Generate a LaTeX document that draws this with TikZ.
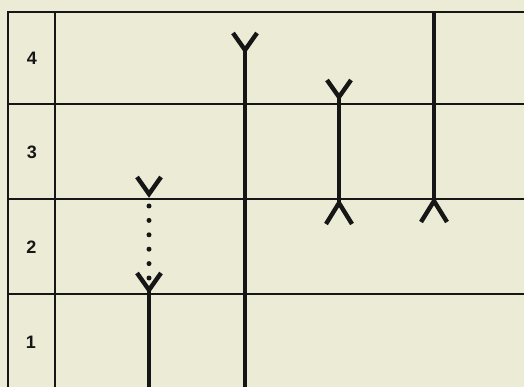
\documentclass[tikz,border=0pt]{standalone}
\usepackage{fontspec}
\setmainfont{Liberation Sans}
\usetikzlibrary{calc}
\definecolor{paper}{RGB}{236,235,214}
\definecolor{ink}{RGB}{22,22,22}
\tikzset{
  rule/.style={draw=ink, line width=2.2pt},
  stem/.style={draw=ink, line width=4.4pt, line join=miter},
  dotline/.style={draw=ink, line width=5pt, line cap=round,
                  dash pattern=on 0pt off 14.4pt, dash phase=2.4pt},
  rowlbl/.style={font=\fontsize{18}{18}\selectfont\bfseries, text=ink, inner sep=0pt},
  forkup/.pic={\draw[stem] (-12,-17) -- (0,0) -- (12,-17);},
  forkdn/.pic={\draw[stem] (-13,21) -- (0,0) -- (13,21);},
}

\begin{document}
\begin{tikzpicture}[x=1pt, y=-1pt]

  % ============ sheet ============
  \fill[paper] (0,0) rectangle (524,387);
  \useasboundingbox (0,0) rectangle (524,387);

  % ============ table ruling ============
  \coordinate (tl) at (8,12);
  \coordinate (tr) at (524,12);
  \coordinate (bl) at (8,390);
  \draw[rule] (bl) -- (tl) -- (tr);
  \draw[rule] (55,12) -- (55,390);
  \draw[rule] (8,104) -- (524,104);
  \draw[rule] (8,199) -- (524,199);
  \draw[rule] (8,294) -- (524,294);

  % ============ row numbers ============
  \node[rowlbl] (r4) at (32,58) {4};
  \node[rowlbl] (r3) at (32,152) {3};
  \node[rowlbl] (r2) at (31.5,247) {2};
  \node[rowlbl] (r1) at (31,342) {1};

  % ============ first strand: solid, then dotted ============
  \coordinate (a0) at (149,390);
  \coordinate (a1) at (149,290);
  \coordinate (a2) at (149,194);
  \draw[stem] (a0) -- (a1);
  \pic at (a1) {forkup};
  \draw[dotline] (a2) -- (a1);
  \pic at (a2) {forkup};

  % ============ second strand: long ============
  \coordinate (b0) at (245,390);
  \coordinate (b1) at (245,50);
  \draw[stem] (b0) -- (b1);
  \pic at (b1) {forkup};

  % ============ third strand: forked at both ends ============
  \coordinate (c0) at (339,203);
  \coordinate (c1) at (339,97);
  \draw[stem] (c0) -- (c1);
  \pic at (c1) {forkup};
  \pic at (c0) {forkdn};

  % ============ fourth strand: from the top ============
  \coordinate (d0) at (434,12);
  \coordinate (d1) at (434,201);
  \draw[stem] (d0) -- (d1);
  \pic at (d1) {forkdn};

\end{tikzpicture}
\end{document}
